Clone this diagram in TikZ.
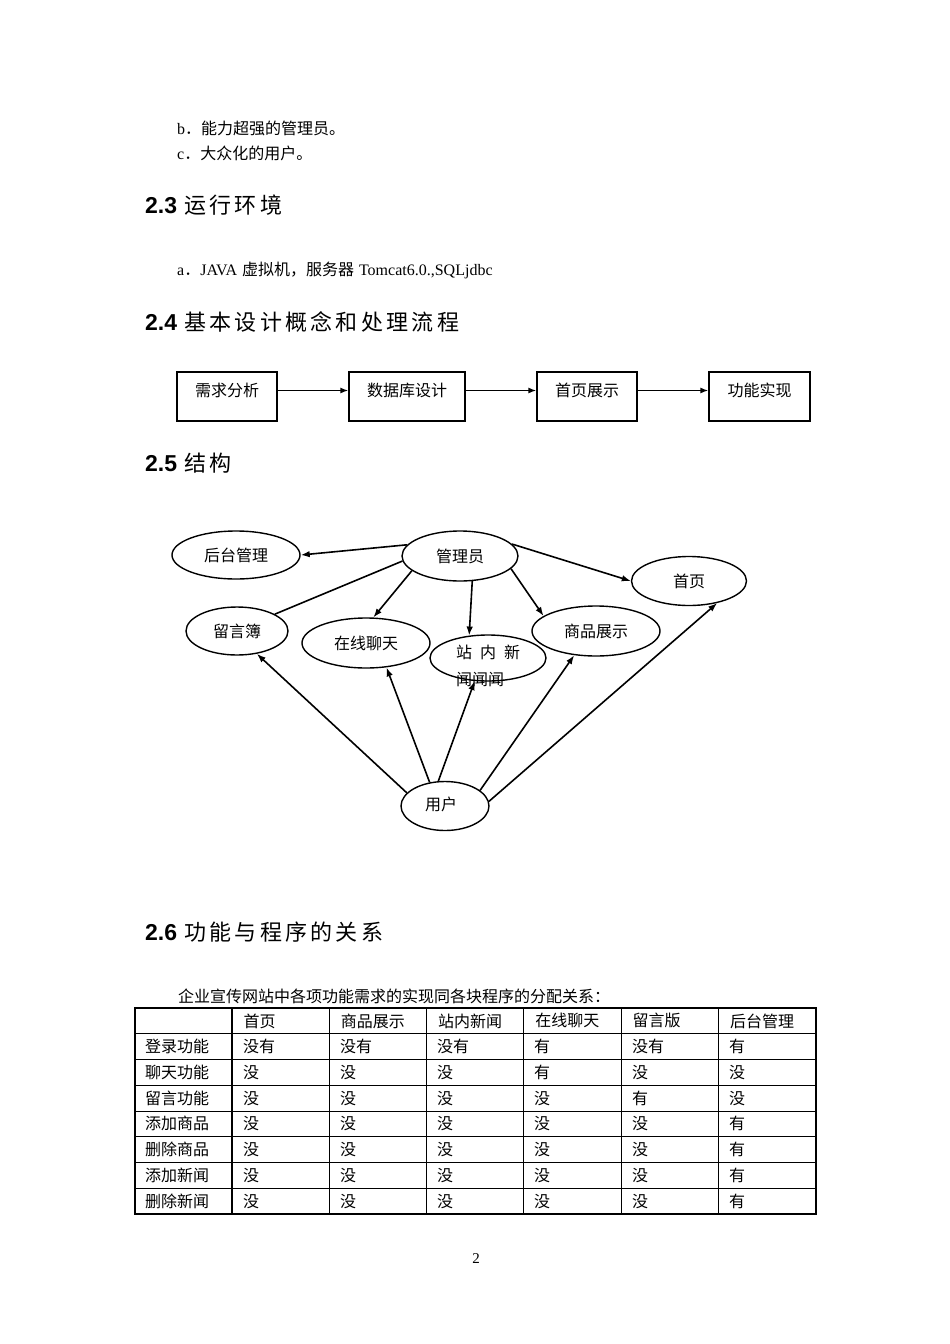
\documentclass[tikz,border=0pt]{standalone}
\usepackage{fontspec}
\setmainfont{Liberation Serif}
\newfontfamily\song{Noto Sans CJK SC}
\newfontfamily\hei[LetterSpace=15]{Noto Sans CJK SC}
\newfontfamily\arialb{Liberation Sans}
\usepackage{tikz}
\usetikzlibrary{positioning,calc}
\usetikzlibrary{arrows.meta,shapes.geometric}
\tikzset{
  body/.style={anchor=west,inner sep=0pt,font=\fontsize{16}{19}\selectfont},
  head/.style={anchor=west,inner sep=0pt,font=\fontsize{23}{26}\selectfont},
  stepbox/.style={draw=black,line width=1.2pt,minimum width=100pt,minimum height=49pt,
    inner sep=0pt,text height=5pt,text depth=5pt,font=\song\fontsize{16}{19}\selectfont},
  flow/.style={draw=black,line width=1.7pt,-{Latex[length=8pt,width=6pt]}},
}
\tikzset{oval/.style={ellipse,draw=black,line width=1.4pt,inner sep=0pt,font=\song\fontsize{16}{19}\selectfont},
  link/.style={draw=black,line width=1.6pt,-{Latex[length=9pt,width=6.5pt]}},
  cell/.style={anchor=west,inner sep=0pt,font=\song\fontsize{16}{19}\selectfont},
  grid/.style={draw=black,line width=0.8pt}}

\begin{document}
\begin{tikzpicture}[x=1pt,y=-1pt]
\useasboundingbox[fill=white] (0,0) rectangle (950,1344);
\node[body] (lb) at (177,128) {b{\song．能力超强的管理员。}};
\node[body] (lc) at (177,153) {c{\song．大众化的用户。}};
\node[head] (s23) at (145,205) {{\arialb\bfseries 2.3}\hspace{7pt}{\hei\fontsize{22}{26}\selectfont 运行环境}};
\node[body] (la) at (177,270) {a{\song．}JAVA\hspace{5pt}{\song 虚拟机，服务器}\hspace{5pt}Tomcat6.0.,SQLjdbc};
\node[head] (s24) at (145,322) {{\arialb\bfseries 2.4}\hspace{7pt}{\hei\fontsize{22}{26}\selectfont 基本设计概念和处理流程}};
\node[stepbox] (req) at (227,396.5) {需求分析};
\node[stepbox,minimum width=116pt] (db) at (407,396.5) {数据库设计};
\node[stepbox] (home) at (587,396.5) {首页展示};
\node[stepbox,minimum width=101pt] (func) at (759.5,396.5) {功能实现};
\draw[flow] ([yshift=6pt]req.east) -- ([yshift=6pt]db.west);
\draw[flow] ([yshift=6pt]db.east) -- ([yshift=6pt]home.west);
\draw[flow] ([yshift=6pt]home.east) -- ([yshift=6pt]func.west);
\node[head] (s25) at (145,463) {{\arialb\bfseries 2.5}\hspace{7pt}{\hei\fontsize{22}{26}\selectfont 结构}};
\node[oval,minimum width=128pt,minimum height=48pt] (houtai) at (236,555) {后台管理};
\node[oval,minimum width=116pt,minimum height=50pt] (guanli) at (460,556) {管理员};
\node[oval,minimum width=115pt,minimum height=49pt] (shouye) at (689,581) {首页};
\node[oval,minimum width=102pt,minimum height=48pt] (liuyan) at (237,631) {留言簿};
\node[oval,minimum width=128pt,minimum height=50pt] (liaotian) at (366,643) {在线聊天};
\node[oval,minimum width=116pt,minimum height=46pt] (xinwen) at (488,658) {};
\node[oval,minimum width=128pt,minimum height=50pt] (shangpin) at (596,631) {商品展示};
\node[oval,minimum width=88pt,minimum height=49pt] (yonghu) at (445,806) {};
\node[cell,anchor=center] (yonghutxt) at (441,804) {用户};
\draw[link] (guanli.168) -- (houtai.east);
\draw[link,-] (guanli.185) -- (liuyan.24);
\draw[link] (guanli.197) -- (liaotian.74);
\draw[link] (guanli.296) -- (xinwen.130);
\draw[link] (guanli.346) -- (shangpin.164);
\draw[link] (guanli.13) -- (shouye.west);
\draw[link] (yonghu.161) -- (liuyan.311);
\draw[link] (yonghu.123) -- (liaotian.310);
\draw[link] (yonghu.105) -- (xinwen.240);
\draw[link] (yonghu.24) -- (shangpin.228);
\draw[link] (yonghu.6) -- (shouye.322);
\node[cell,anchor=north west,align=left,font=\song\fontsize{16}{27}\selectfont] (xinwentxt) at (456,645) {站\hspace{8pt}内\hspace{8pt}新\\闻闻闻};
\node[head] (s26) at (145,932) {{\arialb\bfseries 2.6}\hspace{7pt}{\hei\fontsize{22}{26}\selectfont 功能与程序的关系}};
\node[body] (cap) at (178,996) {\song 企业宣传网站中各项功能需求的实现同各块程序的分配关系：};
\foreach \x in {329,426,523,621,718}
  \draw[grid] (\x,1008) -- (\x,1214);
\foreach \i in {1,3,4,5,6,7}
  \draw[grid] (135,{1008+25.75*\i}) -- (816,{1008+25.75*\i});
\draw[grid,line width=1.6pt] (232,1008) -- (232,1214);
\draw[grid,line width=1.6pt] (135,1059.5) -- (816,1059.5);
\draw[grid,line width=1.3pt] (135,1008) rectangle (816,1214);
\foreach \c/\t in {1/首页,2/商品展示,3/站内新闻,4/在线聊天,5/留言版,6/后台管理}
  \node[cell] (t-0-\c) at ({135+97.3*\c+11},1020.9) {\t};
\foreach \r/\lab/\a/\b/\c/\d/\e/\f in {1/登录功能/没有/没有/没有/有/没有/有,
    2/聊天功能/没/没/没/有/没/没,3/留言功能/没/没/没/没/有/没,
    4/添加商品/没/没/没/没/没/有,5/删除商品/没/没/没/没/没/有,
    6/添加新闻/没/没/没/没/没/有,7/删除新闻/没/没/没/没/没/有}{
  \node[cell] (t-\r-0) at (145,{1008+25.75*(\r+0.5)}) {\lab};
  \node[cell] (t-\r-1) at (243,{1008+25.75*(\r+0.5)}) {\a};
  \node[cell] (t-\r-2) at (340,{1008+25.75*(\r+0.5)}) {\b};
  \node[cell] (t-\r-3) at (437,{1008+25.75*(\r+0.5)}) {\c};
  \node[cell] (t-\r-4) at (534,{1008+25.75*(\r+0.5)}) {\d};
  \node[cell] (t-\r-5) at (632,{1008+25.75*(\r+0.5)}) {\e};
  \node[cell] (t-\r-6) at (729,{1008+25.75*(\r+0.5)}) {\f};
}
\node[font=\fontsize{15}{18}\selectfont,inner sep=0pt] (pg) at (476,1259) {2};
\end{tikzpicture}
\end{document}
